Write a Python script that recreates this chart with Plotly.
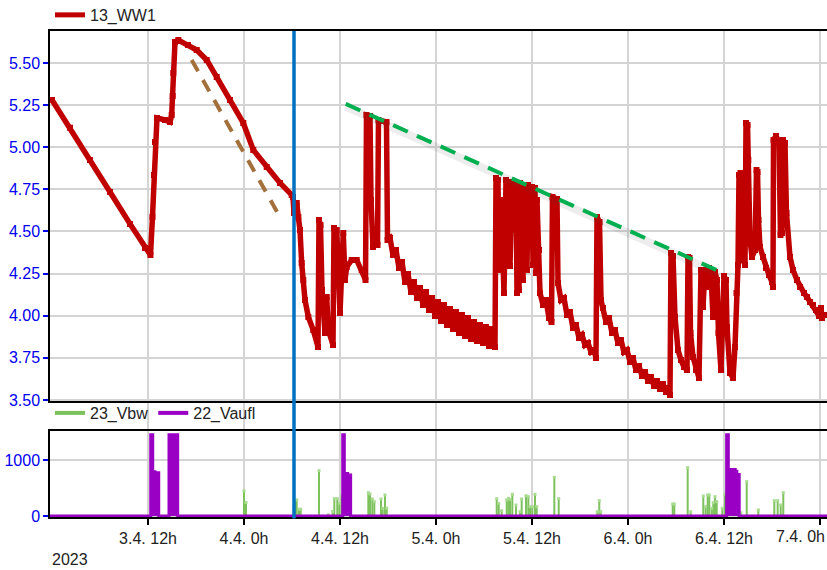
import plotly.graph_objects as go
import pandas as pd

BASE = pd.Timestamp("2023-04-03 00:00")

# ---- 13_WW1 (hours since 3.4. 0h, value) ----
ww1_hours = [
    0, 2.25, 4.75, 7.25, 9.75, 11.625, 12.31,
    12.56, 12.75, 12.875, 13.125, 14.125, 14.75, 14.96, 15.09, 15.16, 15.375, 15.79,
    17.0, 18.09, 19.34, 20.59, 22.25, 23.91, 25.16, 26.84, 28.5, 29.96,
    30.125, 30.25, 30.59, 30.79, 31.0, 31.21, 31.41, 31.625, 32.04, 32.66, 33.25,
    33.375, 33.56, 33.75, 34.125, 34.34, 34.54, 35.125, 35.25, 35.375, 35.59, 36.0,
    36.41, 36.625, 36.84, 37.46, 38.09, 38.71, 39.19,
    39.31, 39.75, 39.875, 40.125, 40.375, 40.69, 40.81, 41.81, 41.94,
    42.25, 42.625, 43.0, 43.375, 43.75, 44.125, 44.5, 44.875, 45.25, 45.625, 46.0,
    46.375, 46.75, 47.125, 47.5, 47.875, 48.25, 48.625, 49.0, 49.375, 49.75, 50.125,
    50.5, 50.875, 51.25, 51.625, 52.0, 52.375, 52.75, 53.125, 53.5, 53.875, 54.25,
    54.625, 55.0, 55.375,
    55.5, 55.75, 55.875, 56.125, 56.375, 56.5, 56.75, 56.875, 57.125, 57.25, 57.5,
    57.75, 58.0, 58.125, 58.375, 58.5, 58.75, 58.875, 59.125, 59.375, 59.5, 59.75,
    60.0, 60.125, 60.375, 60.5, 60.625, 60.875, 61.0,
    61.375, 61.75, 62.125, 62.44, 62.56, 63.125,
    63.25, 63.625, 64.0, 64.375, 64.75, 65.125, 65.5, 65.875, 66.25, 66.625, 67.0,
    67.375, 67.75, 68.0, 68.125, 68.44, 68.625,
    68.875, 69.25, 69.625, 70.0, 70.375, 70.75, 71.125, 71.5, 71.875, 72.25, 72.625,
    73.0, 73.375, 73.75, 74.125, 74.5, 74.875, 75.25, 75.625, 76.0, 76.375, 76.75,
    77.0, 77.25,
    77.375, 77.625, 77.875, 78.25, 78.625, 79.0, 79.375, 79.5, 79.69, 79.81, 80.125,
    80.5, 80.875, 81.125, 81.375, 81.625, 81.875, 82.125, 82.375, 82.625, 82.875,
    83.125, 83.31, 83.625, 84.0, 84.25, 84.375, 84.75, 85.125, 85.375, 85.56, 85.75,
    85.875, 86.06, 86.19, 86.375, 86.625, 86.75, 86.94, 87.04, 87.25, 87.5, 87.875,
    88.06, 88.19, 88.31, 88.5, 88.875, 89.25, 89.625, 90.0, 90.125, 90.19, 90.5,
    90.875, 91.06, 91.25, 91.375, 91.625, 91.81, 92.25, 92.625, 93.125, 93.5, 94.0,
    94.375, 94.75, 95.125, 95.5, 95.875, 96.125, 96.25, 96.5,
]
ww1_values = [
    5.28, 5.115, 4.924, 4.734, 4.545, 4.402, 4.36,
    4.586, 4.835, 5.031, 5.174, 5.162, 5.150, 5.191, 5.304, 5.441, 5.625, 5.636,
    5.607, 5.577, 5.518, 5.417, 5.280, 5.144, 4.984, 4.883, 4.788, 4.717,
    4.705, 4.61, 4.669, 4.586, 4.509, 4.313, 4.212, 4.093, 3.993, 3.915, 3.815,
    4.568, 4.539, 4.153, 3.898, 4.111, 3.915, 3.826, 4.521, 4.212, 4.509, 4.016,
    4.491, 4.212, 4.289, 4.331, 4.331, 4.272, 4.212,
    5.191, 5.185, 4.687, 4.408, 4.450, 4.420, 5.162, 5.150, 4.450,
    4.461, 4.361, 4.390, 4.283, 4.319, 4.200, 4.248, 4.141, 4.200, 4.105, 4.165,
    4.064, 4.141, 4.034, 4.105, 3.999, 4.082, 3.969, 4.064, 3.945, 4.040, 3.921,
    4.022, 3.898, 4.004, 3.880, 3.987, 3.862, 3.963, 3.850, 3.945, 3.838, 3.933,
    3.820, 3.921, 3.815,
    4.818, 4.806, 4.272, 4.687, 4.331, 4.135, 4.806, 4.450, 4.794, 4.295, 4.782,
    4.509, 4.788, 4.135, 4.153, 4.788, 4.390, 4.212, 4.776, 4.272, 4.776, 4.450,
    4.764, 4.301, 4.758, 4.254, 4.687, 4.390, 4.135,
    4.064, 4.093, 3.987, 3.963, 4.705, 4.693,
    4.194, 4.093, 4.105, 4.004, 4.022, 3.927, 3.945, 3.868, 3.886, 3.826, 3.838,
    3.785, 3.797, 3.749, 4.586, 4.556, 4.093,
    4.046, 3.963, 3.987, 3.898, 3.915, 3.838, 3.856, 3.785, 3.797, 3.726, 3.749,
    3.678, 3.702, 3.642, 3.666, 3.613, 3.636, 3.583, 3.613, 3.565, 3.595, 3.547,
    3.571, 3.530,
    4.372, 4.355, 3.993, 3.797, 3.737, 3.696, 3.678, 4.349, 4.343, 3.898, 3.755,
    3.678, 3.631, 4.272, 4.052, 4.272, 4.171, 4.283, 4.242, 3.993, 4.260,
    4.212, 3.898, 3.678, 4.236, 4.212, 3.933, 3.660, 3.631, 3.815, 4.135, 4.301,
    4.835, 4.847, 4.491, 4.331, 4.301, 5.144, 5.132, 4.924, 4.450, 4.349, 4.390,
    4.865, 4.853, 4.568, 4.408, 4.349, 4.283, 4.242, 4.200, 4.171, 5.043, 5.067,
    5.031, 4.479, 4.491, 5.043, 5.025, 4.610, 4.349, 4.272, 4.212, 4.171, 4.135,
    4.111, 4.082, 4.064, 4.034, 3.999, 4.046, 3.987, 4.004,
]

# ---- 23_Vbw stems ----
vbw_hours = [
    24.0, 24.25, 30.375, 30.59, 30.875, 31.09, 33.375, 34.54, 35.09, 35.29, 35.66,
    35.91, 36.21, 39.54, 39.75, 40.04, 40.29, 41.125, 41.34, 41.625, 41.84,
    55.59, 55.84, 56.21, 56.84, 57.04, 57.25, 57.54, 58.0, 58.5, 58.71, 59.25,
    59.54, 59.75, 60.04, 60.375, 60.59, 62.79, 63.34, 68.16, 68.41, 68.59,
    77.59, 77.79, 79.46, 79.84, 81.41, 81.71, 81.96, 82.16, 82.46, 82.66, 82.875,
    83.09, 83.79, 84.125, 86.09, 86.84, 88.29, 90.29, 90.71, 91.09, 91.41,
]
vbw_values = [
    450, 240, 286, 286, 120, 120, 810, 20, 80, 310, 310,
    230, 357, 416, 393, 304, 256, 304, 137, 375, 140,
    310, 226, 95, 286, 315, 298, 387, 196, 77, 304, 363,
    345, 167, 167, 387, 167, 690, 310, 77, 274, 77,
    214, 214, 863, 77, 357, 167, 375, 375, 137, 238, 345,
    256, 137, 387, 59, 613, 107, 274, 274, 196, 416,
]

# ---- 22_Vaufl (step series) ----
vaufl_hours = [-0.25, 12.34, 12.59, 12.875, 13.09, 13.34, 14.625, 15.71,
               36.34, 36.54, 36.96, 37.33, 84.33, 84.54, 85.4, 85.6, 85.9, 97.0]
vaufl_values = [0, 1450, 790, 700, 770, 0, 1450, 0,
                1450, 760, 730, 0, 1450, 830, 800, 740, 0, 0]

# ---- annotation trend lines ----
trend_brown_hours = [17.46, 28.71]
trend_brown_values = [5.518, 4.568]
trend_green_hours = [36.71, 83.09]
trend_green_values = [5.257, 4.271]
marker_hour = 30.25  # vertical blue line

tick_hours = [12, 24, 36, 48, 60, 72, 84, 96]
tick_labels = ["3.4. 12h", "4.4. 0h", "4.4. 12h", "5.4. 0h", "5.4. 12h",
               "6.4. 0h", "6.4. 12h", "7.4. 0h"]
y1_ticks = [3.5, 3.75, 4.0, 4.25, 4.5, 4.75, 5.0, 5.25, 5.5]
y2_ticks = [0, 1000]


def to_dt(hs):
    return [BASE + pd.Timedelta(hours=h) if h is not None else None for h in hs]


RED = "#c00000"
GREEN = "#7cc15c"
PURPLE = "#9900c4"
FONT = "Liberation Sans, Arial, sans-serif"
TXT = "#222222"

fig = go.Figure()

fig.add_trace(go.Scatter(x=to_dt(ww1_hours), y=ww1_values, mode="lines+markers",
                         line=dict(color=RED, width=5.5),
                         marker=dict(color=RED, size=6, symbol="square"),
                         showlegend=False, xaxis="x", yaxis="y"))
fig.add_trace(go.Scatter(x=[None], y=[None], mode="lines", line=dict(color=RED, width=5),
                         name="13_WW1", xaxis="x", yaxis="y", legend="legend"))

# green shadow + dashed trend
fig.add_trace(go.Scatter(x=to_dt(trend_green_hours), y=[v - 0.015 for v in trend_green_values],
                         mode="lines", line=dict(color="rgba(80,80,80,0.10)", width=8),
                         showlegend=False, hoverinfo="skip", xaxis="x", yaxis="y"))
fig.add_trace(go.Scatter(x=to_dt(trend_green_hours), y=trend_green_values, mode="lines",
                         line=dict(color="#00b050", width=4, dash="16px,10px"),
                         showlegend=False, xaxis="x", yaxis="y"))
fig.add_trace(go.Scatter(x=to_dt(trend_brown_hours), y=trend_brown_values, mode="lines",
                         line=dict(color="#a3703c", width=4, dash="13px,10px"),
                         showlegend=False, xaxis="x", yaxis="y"))

# Vbw stems
sx, sy = [], []
for h, v in zip(vbw_hours, vbw_values):
    sx += [h, h, None]
    sy += [0, v, None]
fig.add_trace(go.Scatter(x=to_dt(sx), y=sy, mode="lines", line=dict(color=GREEN, width=2),
                         showlegend=False, xaxis="x2", yaxis="y2"))
fig.add_trace(go.Scatter(x=to_dt(vbw_hours), y=vbw_values, mode="markers",
                         marker=dict(color="#a8dc90", size=3, symbol="square"),
                         showlegend=False, xaxis="x2", yaxis="y2"))
fig.add_trace(go.Scatter(x=to_dt(vaufl_hours), y=vaufl_values, mode="lines",
                         line=dict(color=PURPLE, width=3, shape="hv"), fill="tozeroy",
                         fillcolor=PURPLE, showlegend=False, xaxis="x2", yaxis="y2"))
# legend entries for lower panel
fig.add_trace(go.Scatter(x=[None], y=[None], mode="lines", line=dict(color=GREEN, width=4),
                         name="23_Vbw", xaxis="x2", yaxis="y2", legend="legend2"))
fig.add_trace(go.Scatter(x=[None], y=[None], mode="lines", line=dict(color=PURPLE, width=4),
                         name="22_Vaufl", xaxis="x2", yaxis="y2", legend="legend2"))

shapes = []
for h in tick_hours:
    shapes.append(dict(type="line", xref="x", yref="paper", x0=to_dt([h])[0], x1=to_dt([h])[0],
                       y0=0, y1=1, line=dict(color="#d4d4d4", width=2), layer="below"))
shapes.append(dict(type="line", xref="x", yref="paper", x0=to_dt([marker_hour])[0],
                   x1=to_dt([marker_hour])[0], y0=-0.003, y1=1,
                   line=dict(color="#0070c0", width=3.5), layer="above"))

# last tick label would run past the page edge: show it right-aligned as an annotation
shown_labels = tick_labels[:-1] + [""]

xr = to_dt([-0.25, 96.875])
axis_common = dict(showline=True, linecolor="black", linewidth=1.5, mirror=True,
                   showgrid=False, zeroline=False, range=xr, type="date", automargin=False)

fig.update_layout(
    width=827, height=570,
    margin=dict(l=50, r=0, t=31, b=53, autoexpand=False),
    paper_bgcolor="white", plot_bgcolor="white",
    font=dict(family=FONT, size=16, color=TXT),
    shapes=shapes,
    xaxis=dict(domain=[0, 1], anchor="y", showticklabels=False, ticks="", **axis_common),
    xaxis2=dict(domain=[0, 1], anchor="y2", matches="x", ticks="outside", ticklen=6,
                tickcolor="black", tickwidth=1.5, tickvals=to_dt(tick_hours),
                ticktext=shown_labels, tickfont=dict(size=16, color=TXT),
                **axis_common),
    yaxis=dict(domain=[0.2377, 1], anchor="x", range=[3.491, 5.69], tickvals=y1_ticks,
               ticktext=[f"{v:.2f}" for v in y1_ticks], tickfont=dict(color="#0000ee", size=16),
               ticks="outside", ticklen=5, tickcolor="#0000ee", tickwidth=1.5,
               showline=True, linecolor="black", linewidth=1.5, showgrid=True,
               gridcolor="#d4d4d4", gridwidth=2, zeroline=False, automargin=False),
    yaxis2=dict(domain=[0, 0.177], anchor="x2", range=[-18, 1518], tickvals=y2_ticks,
                ticktext=["0", "1000"], tickfont=dict(color="#0000ee", size=16),
                ticks="outside", ticklen=5, tickcolor="#0000ee", tickwidth=1.5,
                showline=True, linecolor="black", linewidth=1.5, showgrid=True,
                gridcolor="#d4d4d4", gridwidth=2, zeroline=False, automargin=False),
    legend=dict(x=0, y=1.033, xanchor="left", yanchor="middle", orientation="h",
                bgcolor="rgba(0,0,0,0)", font=dict(size=16, color=TXT)),
    legend2=dict(x=0, y=0.214, xanchor="left", yanchor="middle", orientation="h",
                 bgcolor="rgba(0,0,0,0)", font=dict(size=16, color=TXT)),
    showlegend=True,
    annotations=[
        dict(text="2023", xref="paper", yref="paper", x=0, y=-0.088,
             xanchor="left", yanchor="middle", showarrow=False,
             font=dict(size=16, color=TXT)),
        dict(text=tick_labels[-1], xref="paper", yref="paper", x=1, y=-0.018,
             xanchor="right", yanchor="top", showarrow=False,
             font=dict(size=16, color=TXT)),
    ],
)

fig.write_html("out.html")
